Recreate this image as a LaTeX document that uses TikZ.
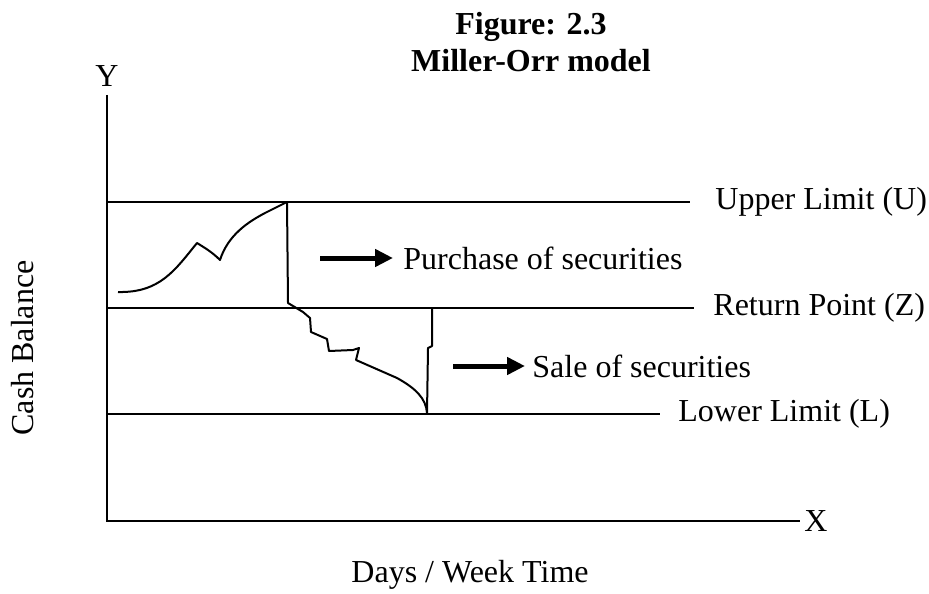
\documentclass[tikz,border=0pt]{standalone}
\usepackage{fontspec}
\setmainfont{Liberation Serif}
\usetikzlibrary{arrows.meta,positioning}

\begin{document}
\begin{tikzpicture}[x=0.5pt,y=-0.5pt,
		txt/.style={font=\fontsize{16}{19}\selectfont,inner sep=0pt},
		limit/.style={line width=1pt},
		bigarrow/.style={line width=2.5pt,-{Triangle[length=9pt,width=8.5pt]}}]
		\useasboundingbox (0,0) rectangle (929,593);
		% title
		\node[txt,font=\fontsize{16}{19}\selectfont\bfseries,anchor=base] (title1) at (531,35) {Figure: 2.3};
		\node[txt,font=\fontsize{16}{19}\selectfont\bfseries,anchor=base] (title2) at (531,72) {Miller-Orr model};
		% axes
		\coordinate (O) at (107,521);
		\coordinate (Ytop) at (107,95);
		\coordinate (Xend) at (800,521);
		\draw[line width=0.8pt] (Ytop) -- (O) -- (Xend);
		\node[txt,above=4pt of Ytop] (ylab) {Y};
		\node[txt,right=2pt of Xend] (xlab) {X};
		\node[txt,rotate=90] (cash) at (23,348) {Cash Balance};
		\node[txt] (days) at (470,575) {Days / Week Time};
		% limits
		\coordinate (U0) at (107,202);
		\coordinate (U1) at (690,202);
		\coordinate (Z0) at (107,308);
		\coordinate (Z1) at (694,308);
		\coordinate (L0) at (107,414);
		\coordinate (L1) at (660,414);
		\draw[limit] (U0) -- (U1);
		\draw[limit] (Z0) -- (Z1);
		\draw[limit] (L0) -- (L1);
		\node[txt,right=12.5pt of U1] (ulab) {Upper Limit (U)};
		\node[txt,right=9.5pt of Z1] (zlab) {Return Point (Z)};
		\node[txt,right=9pt of L1] (llab) {Lower Limit (L)};
		% cash path
		\draw[line width=1pt,line join=round] (118,292) .. controls (160,293) and (175,270) .. (197,243)
			.. controls (205,248) and (212,252) .. (220,260)
			.. controls (228,235) and (248,222) .. (265,213) -- (285,203) -- (287,202)
			-- (288,303) -- (303,312) -- (310,318) -- (311,332) -- (327,339) -- (329,351)
			-- (353,350) -- (359,348) -- (356,360) -- (397,378)
			.. controls (415,388) and (426,398) .. (427,413)
			-- (428,348) -- (432,346) -- (432,308);
		% arrows
		\node[txt,anchor=west] (purchase) at (403,258) {Purchase of securities};
		\node[txt,anchor=west] (sale) at (532,366) {Sale of securities};
		\coordinate (pa) at (320,258);
		\coordinate (sa) at (453,366);
		\draw[bigarrow] (pa) -- ([xshift=-5pt]purchase.west);
		\draw[bigarrow] (sa) -- ([xshift=-3.5pt]sale.west);
\end{tikzpicture}
\end{document}
